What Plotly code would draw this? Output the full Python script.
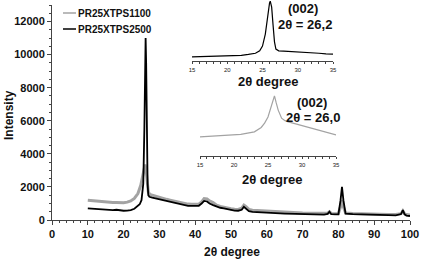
import plotly.graph_objects as go

W, H = 421, 259

# ---------------- data ----------------
series_names = ["PR25XTPS1100", "PR25XTPS2500"]

x_1100 = [10, 11, 12, 13, 14, 15, 16, 17, 18, 19, 20, 21, 22, 23, 24, 24.8, 25.4, 25.8, 26.0, 26.3,
          26.6, 26.9, 27.3, 28, 29, 30, 31, 32, 33, 34, 35, 36, 37, 38, 39, 40, 41, 41.8, 42.5, 43.3,
          44, 45, 46, 47, 48, 49, 50, 51, 52, 53, 53.6, 54.2, 55, 56, 58, 60, 62, 65, 68, 70,
          72, 74, 76, 77, 77.5, 78, 79, 80, 80.6, 81.0, 81.4, 82, 84, 86, 88, 90, 92, 94, 96, 97.5,
          98.0, 98.5, 99, 100]
y_1100 = [1200, 1180, 1150, 1120, 1090, 1080, 1070, 1060, 1060, 1050, 1050, 1080, 1150, 1300, 1600, 2100, 2700, 3200, 3350, 3000,
          2200, 1700, 1550, 1500, 1450, 1400, 1330, 1250, 1200, 1150, 1100, 1050, 1000, 960, 950, 940, 960, 1100, 1300, 1280,
          1150, 1050, 900, 820, 760, 720, 680, 650, 640, 720, 900, 800, 640, 590, 560, 530, 500, 470, 440, 420,
          410, 400, 390, 410, 500, 400, 380, 390, 800, 1200, 800, 430, 400, 380, 370, 360, 350, 340, 330, 380,
          550, 370, 330, 300]

x_2500 = [10, 11, 12, 13, 14, 15, 16, 17, 18, 19, 20, 21, 22, 23, 23.8, 24.5, 25.0, 25.5, 25.8, 26.0,
          26.15, 26.3, 26.5, 26.7, 26.9, 27.2, 28, 29, 30, 31, 32, 33, 34, 35, 36, 37, 38, 39, 40, 41,
          41.8, 42.5, 43.3, 44, 45, 46, 47, 48, 49, 50, 51, 52, 53, 53.6, 54.2, 55, 56, 58, 60, 62,
          65, 68, 70, 72, 74, 76, 77, 77.5, 78, 79, 80, 80.6, 81.0, 81.4, 82, 84, 86, 88, 90, 92,
          94, 96, 97.5, 98.0, 98.5, 99, 100]
y_2500 = [700, 680, 660, 640, 620, 610, 620, 600, 620, 580, 560, 570, 600, 680, 800, 950, 1200, 2200, 5500, 9500,
          11000, 9500, 5000, 2200, 1500, 1400, 1350, 1300, 1280, 1220, 1150, 1100, 1050, 1000, 950, 900, 850, 850, 840, 860,
          1000, 1150, 1120, 1000, 900, 800, 740, 700, 650, 600, 570, 560, 620, 800, 700, 540, 490, 460, 440, 420,
          390, 370, 360, 350, 340, 330, 370, 500, 350, 330, 340, 1200, 2000, 1200, 380, 350, 330, 320, 310, 300,
          290, 280, 360, 600, 340, 270, 240]

# inset: (002) peak, normalised intensity
inset_x_2500 = [15, 16, 17, 18, 19, 20, 21, 22, 23, 24, 24.6, 25.0, 25.4, 25.7, 26.0, 26.1, 26.3, 26.5, 26.7, 26.9,
                27.3, 28, 29, 30, 31, 32, 33, 34, 35]
inset_y_2500 = [0.07, 0.072, 0.075, 0.078, 0.08, 0.083, 0.087, 0.095, 0.11, 0.13, 0.17, 0.25, 0.45, 0.75, 0.97, 1.0, 0.9, 0.6, 0.32, 0.2,
                0.17, 0.165, 0.16, 0.15, 0.14, 0.135, 0.13, 0.12, 0.115]

inset_x_1100 = [15, 16, 17, 18, 19, 20, 21, 22, 23, 24, 24.5, 25.0, 25.5, 25.8, 25.95, 26.2, 26.5, 27.0, 27.5, 28,
                29, 30, 31, 32, 33, 34, 35]
inset_y_1100 = [0.31, 0.315, 0.32, 0.325, 0.33, 0.34, 0.35, 0.37, 0.39, 0.46, 0.53, 0.63, 0.8, 0.93, 0.97, 0.86, 0.74, 0.61, 0.57, 0.55,
                0.52, 0.5, 0.47, 0.44, 0.4, 0.37, 0.34]

x_ticks = [0, 10, 20, 30, 40, 50, 60, 70, 80, 90, 100]
y_ticks = [0, 2000, 4000, 6000, 8000, 10000, 12000]
inset_ticks = [15, 20, 25, 30, 35]

peak_labels = ["(002)", "2θ = 26,2", "(002)", "2θ = 26,0"]
x_title = "2θ degree"
y_title = "Intensity"

GRAY = "#a3a3a3"
BLACK = "#000000"
AX = "#444444"
FONT = "Liberation Sans, Arial, sans-serif"


def px_x(p):
    return p / W


def px_y(p):
    return 1 - p / H


fig = go.Figure()
fig.add_trace(go.Scatter(x=x_1100, y=y_1100, mode="lines", line=dict(color=GRAY, width=3),
                         name=series_names[0], showlegend=False, xaxis="x", yaxis="y"))
fig.add_trace(go.Scatter(x=x_2500, y=y_2500, mode="lines", line=dict(color=BLACK, width=1.8),
                         name=series_names[1], showlegend=False, xaxis="x", yaxis="y"))
fig.add_trace(go.Scatter(x=inset_x_2500, y=inset_y_2500, mode="lines", line=dict(color=BLACK, width=1.2),
                         showlegend=False, xaxis="x2", yaxis="y2"))
fig.add_trace(go.Scatter(x=inset_x_1100, y=inset_y_1100, mode="lines", line=dict(color=GRAY, width=1.2),
                         showlegend=False, xaxis="x3", yaxis="y3"))

tickf = dict(family=FONT, size=11, color="#111")
smallf = dict(family=FONT, size=6, color="#222")


def bold(vals):
    return ["<b>%d</b>" % v for v in vals]


fig.update_layout(
    width=W, height=H, margin=dict(l=0, r=0, t=0, b=0),
    paper_bgcolor="white", plot_bgcolor="rgba(0,0,0,0)",
    showlegend=False,
    xaxis=dict(domain=[px_x(52), px_x(410)], range=[0, 100], tickvals=x_ticks, ticktext=bold(x_ticks),
               showgrid=False, zeroline=False, showline=True, linecolor=AX, linewidth=1,
               ticks="outside", ticklen=4, tickcolor=AX, tickfont=tickf,
               minor=dict(dtick=2, tick0=0, ticks="outside", ticklen=2, tickcolor=AX),
               anchor="y", automargin=False),
    yaxis=dict(domain=[px_y(220), px_y(5)], range=[0, 13000], tickvals=y_ticks, ticktext=bold(y_ticks),
               showgrid=False, zeroline=False, showline=True, linecolor=AX, linewidth=1,
               ticks="outside", ticklen=4, tickcolor=AX, tickfont=tickf,
               minor=dict(dtick=500, tick0=0, ticks="outside", ticklen=2, tickcolor=AX),
               anchor="x", automargin=False),
    xaxis2=dict(domain=[px_x(192), px_x(333)], range=[15, 35], tickvals=inset_ticks,
                showgrid=False, zeroline=False, showline=True, linecolor=AX, linewidth=1,
                ticks="outside", ticklen=2, tickcolor=AX, tickfont=smallf, ticklabelstandoff=1,
                minor=dict(dtick=1, tick0=15, ticks="outside", ticklen=1.5, tickcolor=AX),
                anchor="y2", automargin=False),
    yaxis2=dict(domain=[px_y(61), px_y(0)], range=[0, 1.02], visible=False, anchor="x2"),
    xaxis3=dict(domain=[px_x(200), px_x(336)], range=[15, 35], tickvals=inset_ticks,
                showgrid=False, zeroline=False, showline=True, linecolor=AX, linewidth=1,
                ticks="outside", ticklen=2, tickcolor=AX, tickfont=smallf, ticklabelstandoff=1,
                minor=dict(dtick=1, tick0=15, ticks="outside", ticklen=1.5, tickcolor=AX),
                anchor="y3", automargin=False),
    yaxis3=dict(domain=[px_y(156), px_y(94)], range=[0, 1], visible=False, anchor="x3"),
)

ann = []


def add_text(text, x, y, size, rot=0, color="#111"):
    ann.append(dict(text="<b>%s</b>" % text, x=px_x(x), y=px_y(y), xref="paper", yref="paper",
                    xanchor="center", yanchor="middle", showarrow=False, textangle=rot,
                    font=dict(family=FONT, size=size, color=color)))


add_text(x_title, 232, 252, 12)
add_text(y_title, 9, 115, 12, rot=-90)
add_text(x_title, 268, 81, 13)
add_text(x_title, 272, 179, 13)
add_text(peak_labels[0], 303, 8, 13)
add_text(peak_labels[1], 305, 24, 13)
add_text(peak_labels[2], 312, 102, 13)
add_text(peak_labels[3], 313, 117, 13)

# legend (manual)
shapes = []
for i, (nm, col) in enumerate(zip(series_names, [GRAY, BLACK])):
    yy = 13 + 16 * i
    shapes.append(dict(type="line", xref="paper", yref="paper", x0=px_x(63), x1=px_x(76),
                       y0=px_y(yy), y1=px_y(yy), line=dict(color=col, width=1.5)))
    ann.append(dict(text="<b>%s</b>" % nm, x=px_x(76), y=px_y(yy), xref="paper", yref="paper",
                    xanchor="left", yanchor="middle", showarrow=False,
                    font=dict(family=FONT, size=10, color="#111")))

fig.update_layout(annotations=ann, shapes=shapes)
fig.write_html("out.html", config={"displayModeBar": False, "staticPlot": True},
               post_script="document.body.style.margin='0';document.body.style.overflow='hidden';")
